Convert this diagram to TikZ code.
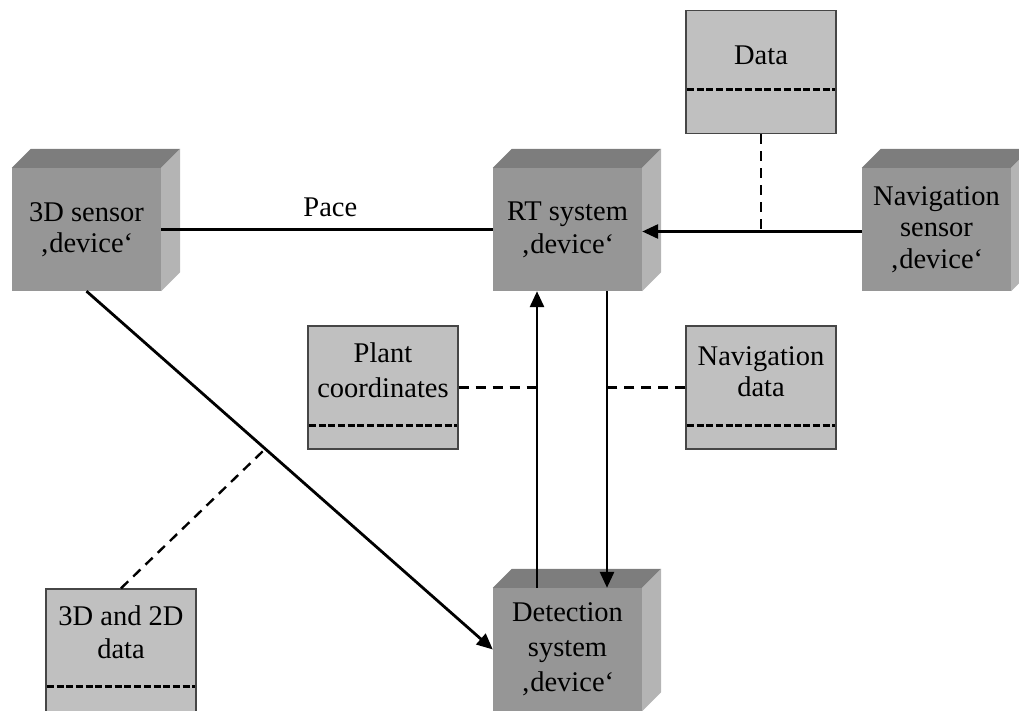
\documentclass[tikz,border=0pt]{standalone}
\usepackage{fontspec}
\setmainfont{Liberation Serif}
\usetikzlibrary{arrows.meta,calc}
\definecolor{frontgray}{RGB}{150,150,150}
\definecolor{topgray}{RGB}{125,125,125}
\definecolor{sidegray}{RGB}{180,180,180}
\definecolor{boxgray}{RGB}{192,192,192}
\definecolor{bordergray}{RGB}{70,70,70}
\newcommand\devfaces[1]{%
  \fill[topgray] (#1.north west) -- ([shift={(19,-19)}]#1.north west) -- ([shift={(19,-19)}]#1.north east) -- (#1.north east) -- cycle;
  \fill[sidegray] (#1.north east) -- ([shift={(19,-19)}]#1.north east) -- ([shift={(19,-19)}]#1.south east) -- (#1.south east) -- cycle;}
\begin{document}
\begin{tikzpicture}[x=1pt,y=-1pt,
  device/.style={rectangle, fill=frontgray, minimum width=149pt, minimum height=123pt, inner sep=0pt, align=center},
  databox/.style={rectangle, fill=boxgray, draw=bordergray, line width=1.4pt, minimum width=150pt, minimum height=123pt, inner sep=0pt},
  txt/.style={inner sep=0pt, align=center},
  conn/.style={line width=2.8pt, draw=black},
  arr/.style={conn, -{Triangle[length=16pt,width=14pt]}},
  link/.style={line width=2.4pt, dash pattern=on 10pt off 7pt},
  sep/.style={line width=2.6pt, dash pattern=on 7pt off 2.7pt}]
\useasboundingbox (0,0) rectangle (1019,711);
\clip (0,0) rectangle (1019,711);

% device boxes
\node[device, font=\fontsize{28.5}{31}\selectfont] (s3d) at (86.5,229.5) {3D sensor\\‚device‘};
\node[device, font=\fontsize{28.5}{33}\selectfont] (rt) at (567.5,229.5) {RT system\\‚device‘};
\node[device, font=\fontsize{28.5}{31.5}\selectfont] (nav) at (936.5,229.5) {Navigation\\sensor\\‚device‘};
\node[device, font=\fontsize{28.5}{35}\selectfont] (det) at (567.5,649.5) {Detection\\system\\‚device‘};
\devfaces{s3d}
\devfaces{rt}
\devfaces{nav}
\devfaces{det}

% data boxes
\node[databox] (data) at (761,72) {};
\node[databox] (plant) at (383,387.5) {};
\node[databox] (navdata) at (761,387.5) {};
\node[databox] (d3) at (121,650.5) {};
\draw[sep] ($(data.north west)+(1.5,80)$) -- ($(data.north east)+(-1.5,80)$);
\draw[sep] ($(plant.north west)+(1.5,100)$) -- ($(plant.north east)+(-1.5,100)$);
\draw[sep] ($(navdata.north west)+(1.5,100)$) -- ($(navdata.north east)+(-1.5,100)$);
\draw[sep] ($(d3.north west)+(1.5,98)$) -- ($(d3.north east)+(-1.5,98)$);
\node[txt, font=\fontsize{28.5}{31}\selectfont] (tdata) at (761,55.6) {Data};
\node[txt, font=\fontsize{28.5}{35}\selectfont] (tplant) at (383,369.8) {Plant\\coordinates};
\node[txt, font=\fontsize{28.5}{31}\selectfont] (tnavdata) at (761,371.7) {Navigation\\data};
\node[txt, font=\fontsize{28.5}{33}\selectfont] (td3) at (121,631.8) {3D and 2D\\data};

% connectors
\draw[conn] (s3d.east) -- node[above=11pt, inner sep=0pt, pos=0.51, font=\fontsize{28.5}{31}\selectfont] (pace) {Pace} (rt.west);
\draw[arr] ([yshift=-2pt]nav.west) -- coordinate[pos=0.45] (j1) ([yshift=-2pt]rt.east);
\draw[link] (data.south) -- (data.south |- j1);
\draw[arr] ([xshift=39.5pt]rt.south) -- coordinate[pos=0.5] (dn) ([xshift=39.5pt]det.north);
\draw[arr] ([xshift=-30.5pt]det.north) -- coordinate[pos=0.5] (up) ([xshift=-30.5pt]rt.south);
\draw[link] (plant.east) -- (plant.east -| up);
\draw[link] (navdata.west) -- (navdata.west -| dn);
\draw[arr] (s3d.south) -- coordinate[pos=0.44] (j2) (det.west);
\draw[link] (d3.north) -- (j2);
\end{tikzpicture}
\end{document}
